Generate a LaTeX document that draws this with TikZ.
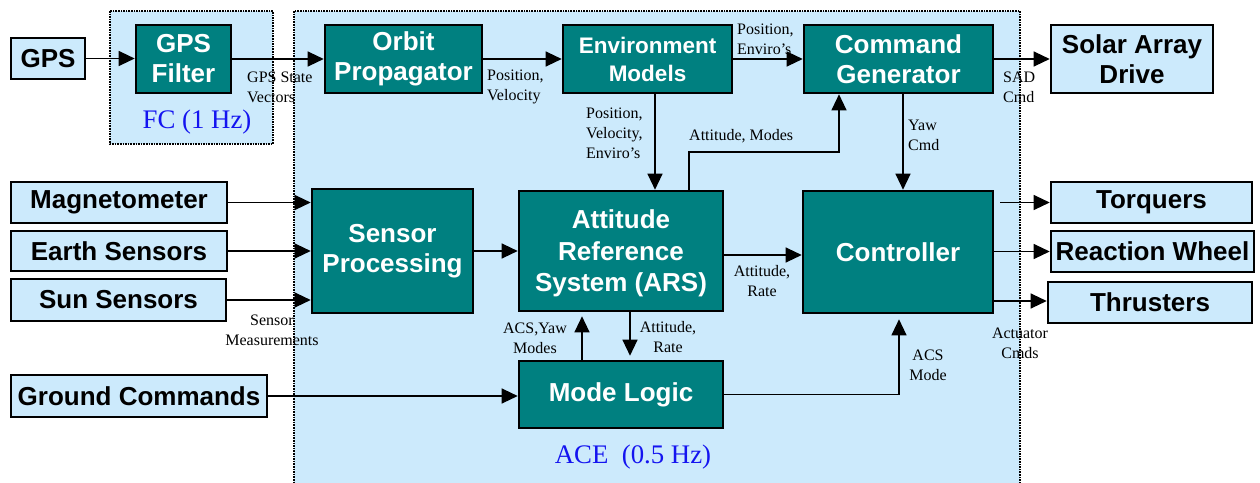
\documentclass[tikz,border=0pt]{standalone}
\usepackage{fontspec}
\setmainfont{Liberation Serif}
\newfontfamily\boxfont{Liberation Sans}
\usetikzlibrary{arrows.meta,calc}
\definecolor{tealfill}{RGB}{0,128,128}
\definecolor{zonefill}{RGB}{204,234,252}
\definecolor{zonetext}{RGB}{20,20,240}
\tikzset{
  block/.style={draw=black, line width=2.6pt, fill=tealfill, text=white,
    inner sep=0pt, align=center, font=\boxfont\bfseries\fontsize{26}{30}\selectfont},
  device/.style={draw=black, line width=2.6pt, fill=zonefill, text=black,
    inner sep=0pt, align=center, font=\boxfont\bfseries\fontsize{26}{30}\selectfont},
  zone/.style={draw=black, fill=zonefill, line width=2.2pt, dash pattern=on 1.6pt off 1pt},
  arr/.style={draw=black, line width=1.2pt, -{Triangle[length=16pt,width=15pt]}},
  lbl/.style={inner sep=0pt, font=\fontsize{16}{20}\selectfont},
  zonelbl/.style={inner sep=0pt, text=zonetext, font=\fontsize{26.8}{30}\selectfont}
}
\begin{document}
\begin{tikzpicture}[x=1pt,y=-1pt]
\useasboundingbox[fill=white] (0,0) rectangle (1260,482);

% processor zones
\path[zone] (110,11) rectangle (273,144);
\path[zone] (294,11) rectangle (1020,490);
\node[zonelbl] (fc) at (197,122) {FC (1 Hz)};
\node[zonelbl] (ace) at (633,457) {ACE\ \ (0.5 Hz)};

% top row
\node[device, minimum width=74pt, minimum height=41pt] (gps) at (48,58.5) {GPS};
\node[block, minimum width=95pt, minimum height=68pt] (gpsf) at (183.5,59) {GPS\\Filter};
\node[block, minimum width=157pt, minimum height=68pt] (orbit) at (403.5,59) {Orbit\\Propagator};
\node[block, minimum width=169pt, minimum height=68pt,
      font=\boxfont\bfseries\fontsize{22.5}{28}\selectfont] (env) at (647.5,59) {Environment\\Models};
\node[block, minimum width=189pt, minimum height=68pt] (cmd) at (898.5,59) {Command\\Generator};
\node[device, minimum width=162pt, minimum height=68pt] (sad) at (1132,59) {Solar Array\\Drive};

% sensors
\node[device, minimum width=216pt, minimum height=41pt] (mag) at (119,202.5) {Magnetometer};
\node[device, minimum width=216pt, minimum height=40pt] (earth) at (119,251) {Earth Sensors};
\node[device, minimum width=215pt, minimum height=42pt] (sun) at (118.5,300) {Sun Sensors};

% middle row
\node[block, minimum width=161pt, minimum height=124pt] (sp) at (392.5,251) {Sensor\\Processing};
\node[block, minimum width=204pt, minimum height=120pt, text depth=0pt,
      font=\boxfont\bfseries\fontsize{26}{31.5}\selectfont] (ars) at (621,251) {Attitude\\Reference\\System (ARS)};
\node[block, minimum width=190pt, minimum height=122pt] (ctrl) at (898,252) {Controller};

% actuators
\node[device, minimum width=201pt, minimum height=41pt] (torq) at (1151.5,202.5) {Torquers};
\node[device, minimum width=203pt, minimum height=41pt] (rw) at (1152.5,251.5) {Reaction Wheel};
\node[device, minimum width=204pt, minimum height=41pt] (thr) at (1150,302.5) {Thrusters};

% bottom row
\node[device, minimum width=256pt, minimum height=42pt] (ground) at (139,396) {Ground Commands};
\node[block, minimum width=204pt, minimum height=67pt] (mode) at (621,394.5) {Mode Logic};

% connectors
\draw[arr] (gps.east) -- (gps.east -| gpsf.west);
\draw[arr] (gpsf.east) -- (orbit.west);
\draw[arr] (orbit.east) -- (env.west);
\draw[arr] (env.east) -- (cmd.west);
\draw[arr] (cmd.east) -- (sad.west);

\draw[arr] ([xshift=7.5pt]env.south) -- ([xshift=7.5pt]env.south |- ars.north);
\coordinate (amk) at (839,152);
\draw[arr] ([xshift=68pt]ars.north) |- (amk) -- (amk |- cmd.south);
\draw[arr] ([xshift=4.5pt]cmd.south) -- ([xshift=4.5pt]cmd.south |- ctrl.north);

\draw[arr] (mag.east) -- (mag.east -| sp.west);
\draw[arr] (earth.east) -- (earth.east -| sp.west);
\draw[arr] (sun.east) -- (sun.east -| sp.west);
\draw[arr] (sp.east) -- (ars.west);
\draw[arr] ([yshift=-4pt]ars.east) -- ([yshift=-4pt]ars.east -| ctrl.west);

\draw[arr] ([xshift=6pt]torq.west -| ctrl.east) -- (torq.west);
\draw[arr] (rw.west -| ctrl.east) -- (rw.west);
\draw[arr] ([yshift=1.5pt]thr.west -| ctrl.east) -- ([yshift=1.5pt]thr.west);

\draw[arr] (ground.east) -- (ground.east -| mode.west);
\draw[arr, shorten >=4pt] ([xshift=-39pt]mode.north) -- ([xshift=-39pt]mode.north |- ars.south);
\draw[arr, shorten >=4pt] ([xshift=9pt]ars.south) -- ([xshift=9pt]ars.south |- mode.north);
\draw[arr, shorten >=5pt] (mode.east) -| ([xshift=1pt]ctrl.south);

% connector labels
\node[lbl, anchor=west, align=left] (l1) at (247,87) {GPS State\\Vectors};
\node[lbl, anchor=west, align=left] (l2) at (487,86.5) {Position,\\Velocity};
\node[lbl, anchor=west, align=left] (l3) at (737,39.5) {Position,\\Enviro's};
\node[lbl, anchor=west, align=left] (l4) at (586,133.5) {Position,\\Velocity,\\Enviro's};
\node[lbl, anchor=west] (l5) at (689,136) {Attitude, Modes};
\node[lbl, anchor=west, align=left] (l6) at (1003,87) {SAD\\Cmd};
\node[lbl, anchor=west, align=left] (l7) at (908,135.5) {Yaw\\Cmd};
\node[lbl, align=center] (l8) at (272,330) {Sensor\\Measurements};
\node[lbl, align=center] (l9) at (762,281.5) {Attitude,\\Rate};
\node[lbl, align=center] (l10) at (535,338) {ACS,Yaw\\Modes};
\node[lbl, align=center] (l11) at (668,337.5) {Attitude,\\Rate};
\node[lbl, align=center] (l12) at (928,365.5) {ACS\\Mode};
\node[lbl, align=center] (l13) at (1020,343) {Actuator\\Cmds};
\end{tikzpicture}
\end{document}
